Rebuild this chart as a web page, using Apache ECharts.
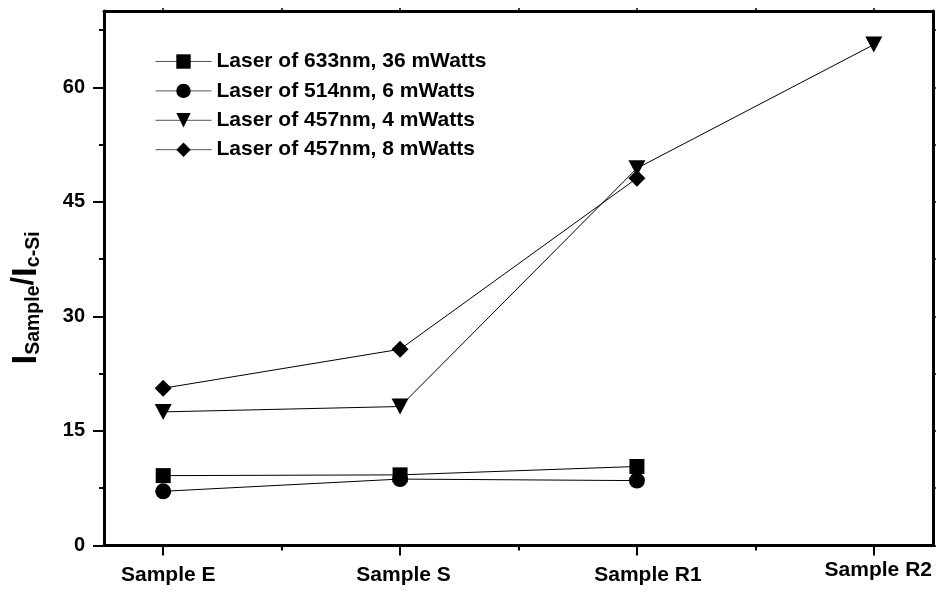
<!DOCTYPE html>
<html>
<head>
<meta charset="utf-8">
<script src="https://cdn.jsdelivr.net/npm/echarts@6/dist/echarts.min.js"></script>
<style>
html,body{margin:0;padding:0;background:#fff;}
#chart{width:940px;height:592px;}
</style>
</head>
<body>
<div id="chart"></div>
<script>
// ---- data ----
const categories = ['Sample E', 'Sample S', 'Sample R1', 'Sample R2'];
const seriesNames = ['Laser of 633nm, 36 mWatts', 'Laser of 514nm, 6 mWatts', 'Laser of 457nm, 4 mWatts', 'Laser of 457nm, 8 mWatts'];
const laser633 = [9.15, 9.25, 10.35, null];
const laser514 = [7.1, 8.7, 8.5, null];
const laser457_4 = [17.5, 18.2, 49.4, 65.6];
const laser457_8 = [20.6, 25.7, 48.1, null];
const yTicks = [0, 15, 30, 45, 60];
const yMinorTicks = [7.5, 22.5, 37.5, 52.5, 67.5];
const xTicks = [0, 1, 2, 3];
const xMinorTicks = [0.5, 1.5, 2.5];

const FONT = '"Liberation Sans", Arial, Helvetica, sans-serif';
function toPairs(arr) {
  const out = [];
  arr.forEach((v, i) => { if (v !== null) out.push([i, v]); });
  return out;
}
const labelRich = {
  l0: { padding: [0, 0, 0, 10], fontSize: 21, fontWeight: 'bold', fontFamily: FONT, color: '#000' },
  l1: { padding: [0, 0, 0, 7], fontSize: 21, fontWeight: 'bold', fontFamily: FONT, color: '#000' },
  l2: { padding: [0, 0, 0, 22], fontSize: 21, fontWeight: 'bold', fontFamily: FONT, color: '#000' },
  l3: { padding: [0, 0, 0, 9], lineHeight: 11, fontSize: 21, fontWeight: 'bold', fontFamily: FONT, color: '#000' }
};
const symbols = [
  { symbol: 'rect', size: 15 },
  { symbol: 'circle', size: 16 },
  { symbol: 'path://M0,0 L20,0 L10,18 Z', size: [17, 16] },
  { symbol: 'diamond', size: 17 }
];
const dataSets = [laser633, laser514, laser457_4, laser457_8];

const chart = echarts.init(document.getElementById('chart'), null, { renderer: 'canvas' });
const axisLineStyle = { color: '#000', width: 3 };
const option = {
  animation: false,
  backgroundColor: '#fff',
  grid: { left: 104, right: 7, top: 11, bottom: 46.5, containLabel: false },
  legend: {
    left: 150, top: 46, orient: 'vertical',
    itemWidth: 56, itemHeight: 18, itemGap: 8.4,
    textStyle: { fontSize: 21, fontWeight: 'bold', fontFamily: FONT, color: '#000' },
    lineStyle: { color: '#555', width: 1 },
    data: seriesNames
  },
  xAxis: [
    {
      type: 'value', min: -0.25, max: 3.25, position: 'bottom',
      axisLine: { show: true, onZero: false, lineStyle: axisLineStyle },
      axisTick: { show: true, customValues: xTicks, length: 10, lineStyle: { color: '#000', width: 2 } },
      axisLabel: {
        show: true, customValues: xTicks, margin: 19,
        fontSize: 21, fontWeight: 'bold', fontFamily: FONT, color: '#000',
        formatter: function (v) { const i = Math.round(v); return '{l' + i + '|' + categories[i] + '}'; },
        rich: labelRich
      },
      splitLine: { show: false }
    },
    {
      type: 'value', min: -0.25, max: 3.25, position: 'bottom', offset: 0,
      axisLine: { show: false, onZero: false },
      axisTick: { show: true, customValues: xMinorTicks, length: 5, lineStyle: { color: '#000', width: 2 } },
      axisLabel: { show: false }, splitLine: { show: false }
    },
    {
      type: 'value', min: -0.25, max: 3.25, position: 'top', offset: 0,
      axisLine: { show: true, onZero: false, lineStyle: axisLineStyle },
      axisTick: { show: true, customValues: xTicks.concat(xMinorTicks), length: 3, lineStyle: { color: '#000', width: 1.5 } },
      axisLabel: { show: false }, splitLine: { show: false }
    }
  ],
  yAxis: [
    {
      type: 'value', min: 0, max: 70, position: 'left',
      axisLine: { show: true, onZero: false, lineStyle: axisLineStyle },
      axisTick: { show: true, customValues: yTicks, length: 11, lineStyle: { color: '#000', width: 2 } },
      axisLabel: { show: true, customValues: yTicks, margin: 19, fontSize: 20, fontWeight: 'bold', fontFamily: FONT, color: '#000' },
      splitLine: { show: false }
    },
    {
      type: 'value', min: 0, max: 70, position: 'left', offset: 0,
      axisLine: { show: false, onZero: false },
      axisTick: { show: true, customValues: yMinorTicks, length: 5, lineStyle: { color: '#000', width: 2 } },
      axisLabel: { show: false }, splitLine: { show: false }
    },
    {
      type: 'value', min: 0, max: 70, position: 'right', offset: 0,
      axisLine: { show: true, onZero: false, lineStyle: axisLineStyle },
      axisTick: { show: true, customValues: yTicks.concat(yMinorTicks), length: 3, lineStyle: { color: '#000', width: 1.5 } },
      axisLabel: { show: false }, splitLine: { show: false }
    }
  ],
  graphic: [
    {
      type: 'text', x: 26, y: 298, rotation: Math.PI / 2,
      style: {
        text: '{big|I}{sub|Sample}{sl|/}{big|I}{sub|c-Si}',
        align: 'center', verticalAlign: 'middle',
        fill: '#000',
        rich: {
          big: { fontSize: 35, fontWeight: 'bold', fontFamily: FONT, lineHeight: 35, padding: [0, 0, 9, 0], verticalAlign: 'top', fill: '#000' },
          sl: { fontSize: 31, fontWeight: 'bold', fontFamily: FONT, lineHeight: 35, padding: [0, 0, 9, 0], verticalAlign: 'top', fill: '#000' },
          sub: { fontSize: 19.5, fontWeight: 'bold', fontFamily: FONT, lineHeight: 19.5, verticalAlign: 'bottom', fill: '#000' }
        }
      }
    }
  ],
  series: dataSets.map((arr, k) => ({
    name: seriesNames[k],
    type: 'line',
    xAxisIndex: 0, yAxisIndex: 0,
    data: toPairs(arr),
    symbol: symbols[k].symbol,
    symbolSize: symbols[k].size,
    showAllSymbol: true,
    lineStyle: { color: '#000', width: 1 },
    itemStyle: { color: '#000', borderWidth: 0 },
    emphasis: { disabled: true },
    z: 3
  }))
};
chart.setOption(option);
</script>
</body>
</html>
